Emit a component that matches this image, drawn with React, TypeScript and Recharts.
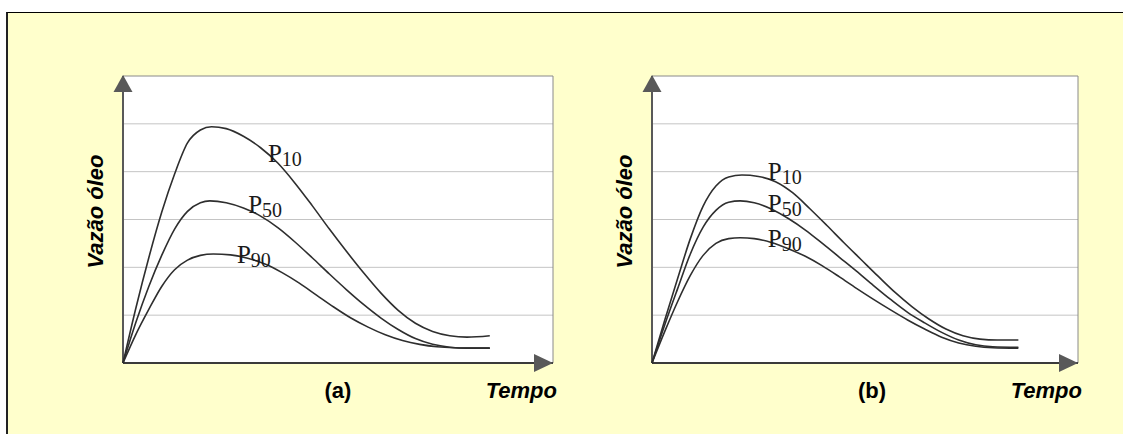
import { LineChart, Line, XAxis, YAxis, ReferenceArea, ReferenceLine, ReferenceDot } from 'recharts'

// tempo (0-100 along the axis) / vazão (grid units, 0-6)
const P10_A = [
  { t: 0, q: 0 }, { t: 3, q: 1.15 }, { t: 6, q: 2.2 }, { t: 9, q: 3.15 }, { t: 12, q: 3.95 },
  { t: 15, q: 4.6 }, { t: 18, q: 4.87 }, { t: 20.6, q: 4.94 }, { t: 24, q: 4.9 }, { t: 28, q: 4.74 },
  { t: 32, q: 4.5 }, { t: 36, q: 4.18 }, { t: 40, q: 3.76 }, { t: 44, q: 3.29 }, { t: 48, q: 2.8 },
  { t: 52, q: 2.33 }, { t: 56, q: 1.88 }, { t: 60, q: 1.46 }, { t: 64, q: 1.1 }, { t: 68, q: 0.83 },
  { t: 72, q: 0.66 }, { t: 76, q: 0.57 }, { t: 80, q: 0.54 }, { t: 85.3, q: 0.57 },
]
const P50_A = [
  { t: 0, q: 0 }, { t: 3, q: 0.85 }, { t: 6, q: 1.6 }, { t: 9, q: 2.25 }, { t: 12, q: 2.8 },
  { t: 15, q: 3.17 }, { t: 18, q: 3.35 }, { t: 20.2, q: 3.39 }, { t: 24, q: 3.35 }, { t: 28, q: 3.24 },
  { t: 32, q: 3.07 }, { t: 36, q: 2.83 }, { t: 40, q: 2.53 }, { t: 44, q: 2.2 }, { t: 48, q: 1.86 },
  { t: 52, q: 1.53 }, { t: 56, q: 1.22 }, { t: 60, q: 0.94 }, { t: 64, q: 0.7 }, { t: 68, q: 0.51 },
  { t: 72, q: 0.39 }, { t: 76, q: 0.33 }, { t: 80, q: 0.31 }, { t: 85.3, q: 0.31 },
]
const P90_A = [
  { t: 0, q: 0 }, { t: 3, q: 0.6 }, { t: 6, q: 1.12 }, { t: 9, q: 1.6 }, { t: 12, q: 1.95 },
  { t: 15, q: 2.15 }, { t: 18, q: 2.25 }, { t: 21, q: 2.28 }, { t: 25, q: 2.26 }, { t: 29, q: 2.19 },
  { t: 33, q: 2.07 }, { t: 37, q: 1.89 }, { t: 41, q: 1.67 }, { t: 45, q: 1.42 }, { t: 49, q: 1.17 },
  { t: 53, q: 0.94 }, { t: 57, q: 0.75 }, { t: 61, q: 0.59 }, { t: 65, q: 0.47 }, { t: 69, q: 0.39 },
  { t: 73, q: 0.34 }, { t: 77, q: 0.32 }, { t: 85.3, q: 0.31 },
]

const P10_B = [
  { t: 0, q: 0 }, { t: 3, q: 0.9 }, { t: 6, q: 1.76 }, { t: 9, q: 2.6 }, { t: 12, q: 3.28 },
  { t: 15, q: 3.7 }, { t: 18, q: 3.89 }, { t: 21.1, q: 3.93 }, { t: 25, q: 3.9 }, { t: 29, q: 3.79 },
  { t: 33, q: 3.56 }, { t: 37, q: 3.23 }, { t: 41, q: 2.88 }, { t: 45, q: 2.52 }, { t: 49, q: 2.17 },
  { t: 53, q: 1.82 }, { t: 57, q: 1.48 }, { t: 61, q: 1.18 }, { t: 65, q: 0.92 }, { t: 69, q: 0.71 },
  { t: 73, q: 0.57 }, { t: 77, q: 0.5 }, { t: 81, q: 0.48 }, { t: 86, q: 0.48 },
]
const P50_B = [
  { t: 0, q: 0 }, { t: 3, q: 0.8 }, { t: 6, q: 1.55 }, { t: 9, q: 2.28 }, { t: 12, q: 2.84 },
  { t: 15, q: 3.19 }, { t: 18, q: 3.36 }, { t: 20.7, q: 3.39 }, { t: 24, q: 3.35 }, { t: 28, q: 3.22 },
  { t: 32, q: 3.02 }, { t: 36, q: 2.78 }, { t: 40, q: 2.5 }, { t: 44, q: 2.21 }, { t: 48, q: 1.92 },
  { t: 52, q: 1.62 }, { t: 56, q: 1.33 }, { t: 60, q: 1.06 }, { t: 64, q: 0.84 }, { t: 68, q: 0.64 },
  { t: 72, q: 0.48 }, { t: 76, q: 0.38 }, { t: 80, q: 0.34 }, { t: 86, q: 0.33 },
]
const P90_B = [
  { t: 0, q: 0 }, { t: 3, q: 0.66 }, { t: 6, q: 1.28 }, { t: 9, q: 1.83 }, { t: 12, q: 2.25 },
  { t: 15, q: 2.5 }, { t: 18, q: 2.6 }, { t: 20.7, q: 2.62 }, { t: 24, q: 2.6 }, { t: 28, q: 2.52 },
  { t: 32, q: 2.39 }, { t: 36, q: 2.23 }, { t: 40, q: 2.03 }, { t: 44, q: 1.8 }, { t: 48, q: 1.56 },
  { t: 52, q: 1.33 }, { t: 56, q: 1.11 }, { t: 60, q: 0.9 }, { t: 64, q: 0.71 }, { t: 68, q: 0.54 },
  { t: 72, q: 0.42 }, { t: 76, q: 0.35 }, { t: 80, q: 0.32 }, { t: 86, q: 0.31 },
]

const GRID_LEVELS = [1, 2, 3, 4, 5]
const Y_MAX = 6
const X_MAX = 100
const Y_TITLE = 'Vazão óleo'
const X_TITLE = 'Tempo'

// where each P label sits, in data units
const LABELS_A = [
  { sub: '10', t: 33.7, q: 4.21 },
  { sub: '50', t: 29.1, q: 3.14 },
  { sub: '90', t: 26.5, q: 2.09 },
]
const LABELS_B = [
  { sub: '10', t: 27.2, q: 3.83 },
  { sub: '50', t: 27.2, q: 3.16 },
  { sub: '90', t: 27.2, q: 2.43 },
]

const SANS = "'Liberation Sans', Arial, sans-serif"
const SERIF = "'Liberation Serif', 'Times New Roman', serif"
const AXIS = '#595959'

type Pt = { t: number; q: number }
type Lbl = { sub: string; t: number; q: number }

const pLabel = (sub: string) => (props: any) => (
  <text x={props.cx} y={props.cy} fill="#1a1a1a" fontFamily={SERIF}>
    <tspan fontSize={25}>P</tspan>
    <tspan fontSize={20} dy={4}>{sub}</tspan>
  </text>
)

const arrowUp = (props: any) => {
  const { cx, cy } = props
  return <polygon points={`${cx},${cy - 1} ${cx - 9.5},${cy + 16} ${cx + 9.5},${cy + 16}`} fill={AXIS} />
}

const arrowRight = (props: any) => {
  const { cx, cy } = props
  return <polygon points={`${cx},${cy} ${cx - 19},${cy - 9} ${cx - 19},${cy + 9}`} fill={AXIS} />
}

function Panel({
  left,
  width,
  marginLeft,
  marginRight,
  series,
  labels,
  caption,
  captionDx,
}: {
  left: number
  width: number
  marginLeft: number
  marginRight: number
  series: Pt[][]
  labels: Lbl[]
  caption: string
  captionDx: number
}) {
  const yTitle = (props: any) => {
    const vb = props.viewBox || {}
    const x = (vb.x ?? 0) + (vb.width ?? 0) - 20
    const y = (vb.y ?? 0) + (vb.height ?? 0) / 2 - 8
    return (
      <text
        x={x}
        y={y}
        transform={`rotate(-90 ${x} ${y})`}
        textAnchor="middle"
        fontFamily={SANS}
        fontWeight="bold"
        fontStyle="italic"
        fontSize={22}
        fill="#000"
      >
        {Y_TITLE}
      </text>
    )
  }

  const xTitle = (props: any) => {
    const vb = props.viewBox || {}
    const x = vb.x ?? 0
    const y = (vb.y ?? 0) + 35
    const w = vb.width ?? 0
    return (
      <g fontFamily={SANS} fontWeight="bold" fontSize={22} fill="#000">
        <text x={x + w / 2 + captionDx} y={y} textAnchor="middle">
          {caption}
        </text>
        <text x={x + w + 4} y={y} textAnchor="end" fontStyle="italic">
          {X_TITLE}
        </text>
      </g>
    )
  }

  return (
    <div style={{ position: 'absolute', left, top: 0 }}>
      <LineChart width={width} height={434} margin={{ top: 76, right: marginRight, bottom: 70, left: marginLeft - 1 }}>
        <XAxis
          type="number"
          dataKey="t"
          domain={[0, X_MAX]}
          height={1}
          tick={false}
          tickLine={false}
          axisLine={false}
          label={{ content: xTitle }}
        />
        <YAxis
          type="number"
          domain={[0, Y_MAX]}
          width={1}
          tick={false}
          tickLine={false}
          axisLine={false}
          label={{ content: yTitle }}
        />
        <ReferenceArea x1={0} x2={X_MAX} y1={0} y2={Y_MAX} fill="#ffffff" fillOpacity={1} stroke="none" />
        {GRID_LEVELS.map((g) => (
          <ReferenceLine key={g} y={g} stroke="#c4c4c4" strokeWidth={1} />
        ))}
        <ReferenceLine y={Y_MAX} stroke="#8a8a8a" strokeWidth={1} />
        <ReferenceLine x={X_MAX} stroke="#8a8a8a" strokeWidth={1} />
        <ReferenceLine y={0} stroke="#3a3a3a" strokeWidth={2} />
        <ReferenceLine x={0} stroke={AXIS} strokeWidth={2} />
        {series.map((s, i) => (
          <Line
            key={i}
            data={s}
            dataKey="q"
            type="monotone"
            stroke="#2e2e2e"
            strokeWidth={1.6}
            dot={false}
            activeDot={false}
            isAnimationActive={false}
          />
        ))}
        {labels.map((l) => (
          <ReferenceDot key={l.sub} x={l.t} y={l.q} ifOverflow="visible" shape={pLabel(l.sub)} />
        ))}
        <ReferenceDot x={0} y={Y_MAX} ifOverflow="visible" shape={arrowUp} />
        <ReferenceDot x={X_MAX} y={0} ifOverflow="visible" shape={arrowRight} />
      </LineChart>
    </div>
  )
}

export default function App() {
  return (
    <div style={{ position: 'absolute', left: 0, top: 0, width: 1123, height: 434, background: '#fff', overflow: 'hidden' }}>
      <div
        style={{
          position: 'absolute',
          left: 6,
          top: 12,
          width: 1130,
          height: 440,
          background: '#ffffcc',
          borderTop: '1.5px solid #000',
          borderLeft: '2px solid #222',
        }}
      />
      <Panel
        left={0}
        width={600}
        marginLeft={123}
        marginRight={47}
        series={[P10_A, P50_A, P90_A]}
        labels={LABELS_A}
        caption="(a)"
        captionDx={0}
      />
      <Panel
        left={560}
        width={563}
        marginLeft={92}
        marginRight={45}
        series={[P10_B, P50_B, P90_B]}
        labels={LABELS_B}
        caption="(b)"
        captionDx={7}
      />
    </div>
  )
}
